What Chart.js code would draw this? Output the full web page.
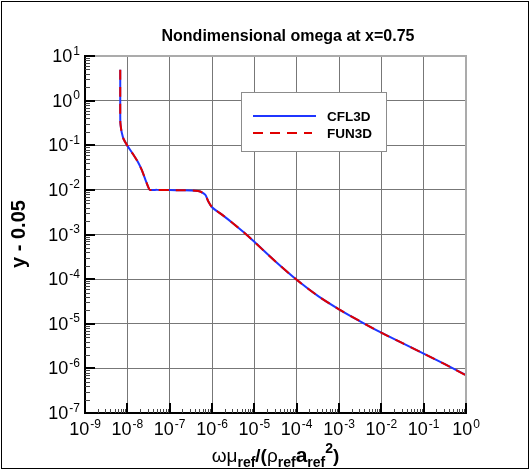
<!DOCTYPE html>
<html>
<head>
<meta charset="utf-8">
<script src="https://cdn.jsdelivr.net/npm/chart.js@4.4.1/dist/chart.umd.min.js"></script>
<style>
  html, body { margin: 0; padding: 0; background: #fff; }
  #wrap { position: relative; width: 530px; height: 471px; }
</style>
</head>
<body>
<div id="wrap"><canvas id="omegaChart"></canvas></div>
<script>
// values (omega nondimensional vs y - 0.05)
const omegaCFL3D = [6.8e-9, 6.8e-9, 6.8e-9, 6.8e-9, 6.85e-9, 7.1e-9, 7.4e-9, 8.1e-9, 1.0e-8, 1.38e-8,
    1.78e-8, 2.19e-8, 2.69e-8, 3.16e-8, 3.4e-8, 5e-8, 1e-7, 2e-7, 4e-7, 5.25e-7,
    6.9e-7, 8.2e-7, 1e-6, 1.78e-6, 3.16e-6, 5.62e-6, 1e-5, 3.16e-5, 1e-4, 3.16e-4,
    1e-3, 3.16e-3, 1e-2, 3.16e-2, 0.1, 0.316, 1];
const yCFL3D = [4.9, 2.0, 1.0, 0.5, 0.32, 0.24, 0.19, 0.14, 0.098, 0.062,
    0.042, 0.028, 0.0166, 0.0112, 0.0100, 0.0100, 0.0099, 0.0098, 0.0096, 0.0092,
    0.0078, 0.0055, 0.0041, 0.00272, 0.00177, 0.00112, 0.000684, 0.000248, 9.66e-5, 4.22e-5,
    2.11e-5, 1.135e-5, 6.31e-6, 3.67e-6, 2.14e-6, 1.245e-6, 7.08e-7];
const omegaFUN3D = omegaCFL3D.slice();
const yFUN3D = [4.9, 2.0, 1.0, 0.5, 0.32, 0.24, 0.19, 0.14, 0.098, 0.062,
    0.042, 0.028, 0.0166, 0.0112, 0.0100, 0.0100, 0.0099, 0.0098, 0.0096, 0.0092,
    0.0078, 0.0055, 0.0041, 0.00272, 0.00177, 0.00112, 0.000684, 0.000248, 9.66e-5, 4.22e-5,
    2.11e-5, 1.135e-5, 6.31e-6, 3.67e-6, 2.14e-6, 1.24e-6, 6.95e-7];

const xDecades = [1e-9, 1e-8, 1e-7, 1e-6, 1e-5, 1e-4, 1e-3, 1e-2, 1e-1, 1];
const xExponents = ['-9', '-8', '-7', '-6', '-5', '-4', '-3', '-2', '-1', '0'];
const yDecades = [1e-7, 1e-6, 1e-5, 1e-4, 1e-3, 1e-2, 1e-1, 1, 10];
const yExponents = ['-7', '-6', '-5', '-4', '-3', '-2', '-1', '0', '1'];

const seriesNames = ['CFL3D', 'FUN3D'];
const chartTitle = 'Nondimensional omega at x=0.75';
const yTitle = 'y - 0.05';

const BLUE = '#1f35ff';
const RED = '#e00000';

function pts(xs, ys) {
    return xs.map((x, i) => ({ x: x, y: ys[i] }));
}

function minorValues(decades) {
    const out = [];
    for (let i = 0; i < decades.length - 1; i++) {
        for (let k = 2; k <= 9; k++) out.push(decades[i] * k);
    }
    return out;
}

const decoPlugin = {
    id: 'deco',
    afterDatasetsDraw(chart) {
        const ctx = chart.ctx;
        // legend box
        ctx.save();
        ctx.fillStyle = '#fff';
        ctx.fillRect(241, 92, 145, 59);
        ctx.strokeStyle = '#8c8c8c';
        ctx.lineWidth = 1;
        ctx.strokeRect(241.5, 92.5, 145, 59);
        ctx.lineWidth = 2;
        ctx.strokeStyle = BLUE;
        ctx.beginPath(); ctx.moveTo(253, 116); ctx.lineTo(316, 116); ctx.stroke();
        ctx.strokeStyle = RED;
        ctx.setLineDash([10, 7]);
        ctx.beginPath(); ctx.moveTo(253, 133); ctx.lineTo(312, 133); ctx.stroke();
        ctx.setLineDash([]);
        ctx.fillStyle = '#000';
        ctx.font = 'bold 13.5px "Liberation Sans", Arial, sans-serif';
        ctx.textAlign = 'left';
        ctx.textBaseline = 'alphabetic';
        ctx.fillText(seriesNames[0], 327, 121);
        ctx.fillText(seriesNames[1], 327, 138);
        ctx.restore();
    },
    afterDraw(chart) {
        const ctx = chart.ctx;
        const xs = chart.scales.x, ys = chart.scales.y;
        const a = chart.chartArea;
        ctx.save();

        // top and right frame
        ctx.strokeStyle = '#ababab';
        ctx.lineWidth = 2;
        ctx.beginPath();
        ctx.moveTo(a.left, a.top); ctx.lineTo(a.right, a.top); ctx.lineTo(a.right, a.bottom);
        ctx.stroke();

        // minor ticks
        ctx.strokeStyle = '#444';
        ctx.lineWidth = 1;
        minorValues(xDecades).forEach(v => {
            const px = Math.round(xs.getPixelForValue(v)) + 0.5;
            ctx.beginPath(); ctx.moveTo(px, a.bottom); ctx.lineTo(px, a.bottom - 4); ctx.stroke();
        });
        minorValues(yDecades).forEach(v => {
            const py = Math.round(ys.getPixelForValue(v)) + 0.5;
            ctx.beginPath(); ctx.moveTo(a.left, py); ctx.lineTo(a.left + 5, py); ctx.stroke();
        });
        // major ticks
        ctx.strokeStyle = '#000';
        ctx.lineWidth = 2;
        xDecades.forEach(v => {
            const px = Math.round(xs.getPixelForValue(v));
            ctx.beginPath(); ctx.moveTo(px, a.bottom); ctx.lineTo(px, a.bottom - 10); ctx.stroke();
        });
        yDecades.forEach(v => {
            const py = Math.round(ys.getPixelForValue(v));
            ctx.beginPath(); ctx.moveTo(a.left, py); ctx.lineTo(a.left + 10, py); ctx.stroke();
        });

        // tick labels
        const baseFont = '18px "Liberation Sans", Arial, sans-serif';
        const expFont = '12px "Liberation Sans", Arial, sans-serif';
        ctx.fillStyle = '#000';
        ctx.textAlign = 'left';
        ctx.textBaseline = 'alphabetic';
        xDecades.forEach((v, i) => {
            const px = xs.getPixelForValue(v);
            ctx.font = baseFont;
            const w1 = ctx.measureText('10').width;
            ctx.font = expFont;
            const w2 = ctx.measureText(xExponents[i]).width;
            const x0 = px - (w1 + w2 + 1) / 2;
            ctx.font = baseFont;
            ctx.fillText('10', x0, 435);
            ctx.font = expFont;
            ctx.fillText(xExponents[i], x0 + w1 + 1, 427.5);
        });
        yDecades.forEach((v, i) => {
            const py = ys.getPixelForValue(v);
            ctx.font = baseFont;
            const w1 = ctx.measureText('10').width;
            ctx.font = expFont;
            const w2 = ctx.measureText(yExponents[i]).width;
            const x0 = 80 - (w1 + w2 + 1);
            ctx.font = baseFont;
            ctx.fillText('10', x0, py + 6);
            ctx.font = expFont;
            ctx.fillText(yExponents[i], x0 + w1 + 1, py - 1.5);
        });

        // chart title
        ctx.font = 'bold 16px "Liberation Sans", Arial, sans-serif';
        ctx.textAlign = 'center';
        ctx.fillText(chartTitle, 288, 41);

        // y axis title
        ctx.save();
        ctx.translate(24.5, 234);
        ctx.rotate(-Math.PI / 2);
        ctx.font = 'bold 20px "Liberation Sans", Arial, sans-serif';
        ctx.textAlign = 'center';
        ctx.fillText(yTitle, 0, 0);
        ctx.restore();

        // x axis title with sub/superscripts
        const reg = '19px "Liberation Sans", Arial, sans-serif';
        const bold = 'bold 19px "Liberation Sans", Arial, sans-serif';
        const big = 'bold 21px "Liberation Sans", Arial, sans-serif';
        const sub = 'bold 14px "Liberation Sans", Arial, sans-serif';
        const base = 462;
        const parts = [
            ['\u03c9', reg, 0], ['\u03bc', reg, 0], ['ref', sub, 5],
            ['/(', bold, 0], ['\u03c1', reg, 0], ['ref', sub, 5],
            ['a', big, 0], ['ref', sub, 5], ['2', sub, -9], [')', bold, 0]
        ];
        ctx.textAlign = 'left';
        let total = 0;
        parts.forEach(p => { ctx.font = p[1]; p.push(ctx.measureText(p[0]).width); total += p[3]; });
        let cx = (a.left + a.right) / 2 - total / 2;
        parts.forEach(p => {
            ctx.font = p[1];
            ctx.fillText(p[0], cx, base + p[2]);
            cx += p[3];
        });

        // outer frame of the picture
        ctx.strokeStyle = '#000';
        ctx.lineWidth = 1;
        ctx.strokeRect(1.5, 1.5, 527, 467);
        ctx.restore();
    }
};

const ctx = document.getElementById('omegaChart').getContext('2d');
new Chart(ctx, {
    type: 'scatter',
    data: {
        datasets: [
            {
                label: seriesNames[0],
                data: pts(omegaCFL3D, yCFL3D),
                showLine: true,
                borderColor: BLUE,
                borderWidth: 2,
                pointRadius: 0,
                tension: 0.25,
                order: 1
            },
            {
                label: seriesNames[1],
                data: pts(omegaFUN3D, yFUN3D),
                showLine: true,
                borderColor: RED,
                borderWidth: 2,
                borderDash: [10, 7],
                pointRadius: 0,
                tension: 0.25,
                order: 0
            }
        ]
    },
    options: {
        responsive: true,
        maintainAspectRatio: false,
        animation: false,
        events: [],
        layout: { padding: { left: 85, top: 56, right: 64, bottom: 58 } },
        plugins: { legend: { display: false }, tooltip: { enabled: false } },
        scales: {
            x: {
                type: 'logarithmic',
                min: 1e-9,
                max: 1,
                afterBuildTicks: sc => { sc.ticks = xDecades.map(v => ({ value: v })); },
                ticks: { display: false },
                grid: { color: '#777', lineWidth: 1, drawTicks: false },
                border: { color: '#000', width: 2 }
            },
            y: {
                type: 'logarithmic',
                min: 1e-7,
                max: 10,
                afterBuildTicks: sc => { sc.ticks = yDecades.map(v => ({ value: v })); },
                ticks: { display: false },
                grid: { color: '#777', lineWidth: 1, drawTicks: false },
                border: { color: '#000', width: 2 }
            }
        }
    },
    plugins: [decoPlugin]
});
</script>
</body>
</html>
